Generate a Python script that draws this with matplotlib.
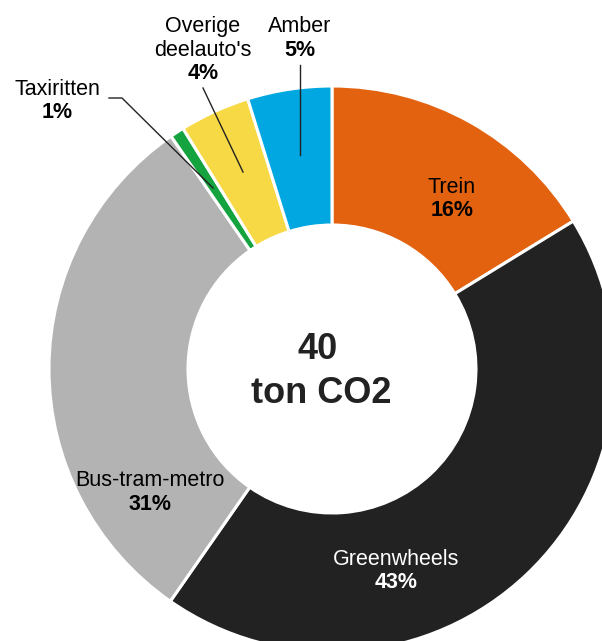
import matplotlib
matplotlib.use("Agg")
import matplotlib.pyplot as plt

categories = ["Trein", "Greenwheels", "Bus-tram-metro", "Taxiritten", "Overige\ndeelauto's", "Amber"]
shares = [16.2, 43.3, 30.6, 0.8, 4.0, 4.8]
pct_labels = ["16%", "43%", "31%", "1%", "4%", "5%"]
colors = ["#E36210", "#222222", "#B3B3B3", "#14A33F", "#F7D945", "#00A7E1"]
center_text = ["40", "ton CO2"]

plt.rcParams["font.family"] = ["Liberation Sans", "DejaVu Sans"]

W, H = 602, 641
CX, CY = 332, 369
R_OUT, R_IN = 283, 144

fig = plt.figure(figsize=(W / 100, H / 100), dpi=100)
ax = fig.add_axes([0, 0, 1, 1])
ax.axis("off")

ax.pie(shares, colors=colors, startangle=90, counterclock=False, radius=R_OUT,
       wedgeprops=dict(width=R_OUT - R_IN, edgecolor="white", linewidth=2.2))
ax.set_xlim(-CX, W - CX)
ax.set_ylim(-(H - CY), CY)
ax.set_aspect("equal")


def P(x, y):
    return x - CX, CY - y


fs = 15.5
LS = 23.5
# label placements (pixel position of first line baseline)
label_pos = {
    0: (452, 193, "black"),
    1: (396, 565, "white"),
    2: (150, 486, "black"),
    3: (57, 95, "black"),
    4: (203, 32, "black"),
    5: (300, 32, "black"),
}
for i, (x, y, c) in label_pos.items():
    lines = categories[i].split("\n")
    for k, line in enumerate(lines):
        ax.text(*P(x, y + k * LS), line, ha="center", va="baseline", fontsize=fs, color=c)
    ax.text(*P(x, y + len(lines) * LS), pct_labels[i], ha="center", va="baseline",
            fontsize=fs, color=c, fontweight="bold")

# leader lines
lc = dict(color="#222222", lw=1.0)
ax.plot(*zip(P(300, 65), P(300, 155)), **lc)
ax.plot(*zip(P(203, 88), P(243, 172)), **lc)
ax.plot(*zip(P(109, 98), P(122, 98), P(213, 188)), **lc)

# center text
ax.text(*P(318, 359), center_text[0], ha="center", va="baseline", fontsize=26, fontweight="bold", color="#222222")
ax.text(*P(321, 403), center_text[1], ha="center", va="baseline", fontsize=26, fontweight="bold", color="#222222")

fig.savefig("out.png", dpi=100, facecolor="white")
